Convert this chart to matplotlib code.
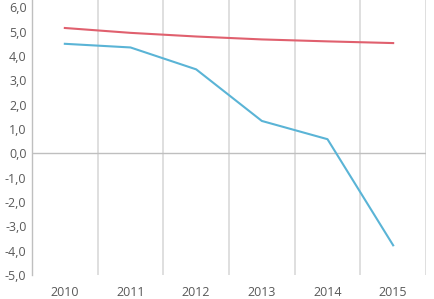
import matplotlib
matplotlib.use("Agg")
import matplotlib.pyplot as plt
from matplotlib.ticker import FixedLocator, FuncFormatter

years = ["2010", "2011", "2012", "2013", "2014", "2015"]
red_series = [5.15, 4.95, 4.80, 4.68, 4.60, 4.53]
blue_series = [4.50, 4.35, 3.45, 1.33, 0.58, -3.78]
y_ticks = [-5, -4, -3, -2, -1, 0, 1, 2, 3, 4, 5, 6]

plt.rcParams['font.family'] = ['Open Sans', 'DejaVu Sans']

fig = plt.figure(figsize=(4.34, 2.99), dpi=100)
ax = fig.add_axes([32/434, 24/299, 394/434, 275/299])

x = list(range(len(years)))
ax.plot(x, red_series, color="#E0606E", lw=1.5, zorder=3)
ax.plot(x, blue_series, color="#5AB4D6", lw=1.5, zorder=3)

ax.set_xlim(-0.5, len(years) - 0.5)
ax.set_ylim(-5, 6.3)
ax.set_xticks(x)
ax.set_xticklabels(years)
ax.xaxis.set_minor_locator(FixedLocator([i + 0.5 for i in range(len(years))]))
ax.grid(which="minor", axis="x", color="#D9D9D9", lw=1.2)
ax.set_yticks(y_ticks)
ax.yaxis.set_major_formatter(FuncFormatter(lambda v, p: f"{v:.1f}".replace(".", ",")))
ax.axhline(0, color="#BFBFBF", lw=1.0, zorder=2)

for s in ["top", "right", "bottom"]:
    ax.spines[s].set_visible(False)
ax.spines["left"].set_color("#BFBFBF")
ax.spines["left"].set_linewidth(1.0)
ax.tick_params(axis="both", which="both", length=0, colors="#595959", labelsize=9)
ax.tick_params(axis="y", pad=4)
ax.tick_params(axis="x", pad=8)

fig.savefig("out.png", dpi=100)
